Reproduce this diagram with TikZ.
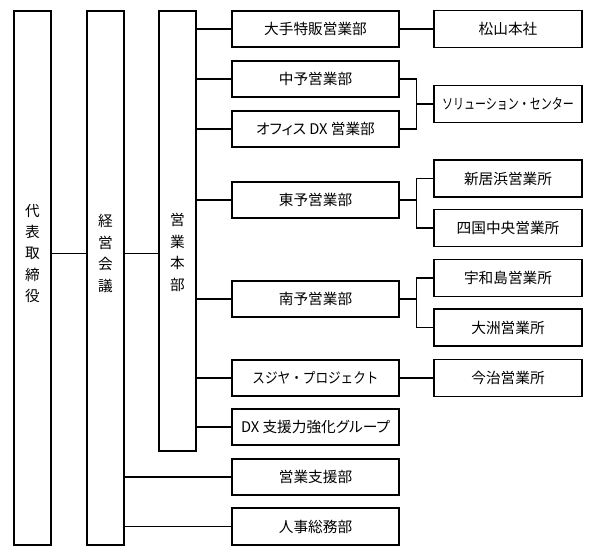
\documentclass[tikz,border=0pt]{standalone}
\usepackage{fontspec}
\setmainfont{Noto Sans CJK JP}[RawFeature={+palt}]
\newfontfamily\narrowjp{Noto Sans CJK JP}[FakeStretch=0.75]
\newfontfamily\semijp{Noto Sans CJK JP}[FakeStretch=0.86]
\usetikzlibrary{calc}
\begin{document}
\begin{tikzpicture}[x=0.75pt,y=-0.75pt,
  box/.style={draw, line width=1.2pt, inner sep=0pt, outer sep=0pt, font=\fontsize{11}{13}\selectfont},
  midbox/.style={box, minimum width=125.25pt, minimum height=27.4pt},
  rbox/.style={box, minimum width=111pt, minimum height=27.75pt},
  colbox/.style={box, minimum width=27.75pt},
  vtext/.style={align=center, inner sep=0pt, font=\fontsize{11}{16.1}\selectfont},
  link/.style={line width=1.1pt}]
\useasboundingbox (0,0) rectangle (596,553);
% columns
\node[colbox, minimum height=400.5pt] (c1) at (32.5,278) {};
\node[colbox, minimum height=400.5pt] (c2) at (105.5,278) {};
\node[colbox, minimum height=330pt] (c3) at (177.5,231) {};
\node[vtext] (t1) at (32.5,253.5) {代\\表\\取\\締\\役};
\node[vtext] (t2) at (105.5,253.5) {経\\営\\会\\議};
\node[vtext] (t3) at (177.5,252.5) {営\\業\\本\\部};
% middle boxes
\node[midbox] (m1) at (315.5,29) {大手特販営業部};
\node[midbox] (m2) at (315.5,79) {中予営業部};
\node[midbox] (m3) at (315.5,129) {オフィス DX 営業部};
\node[midbox] (m4) at (315.5,200) {東予営業部};
\node[midbox] (m5) at (315.5,299) {南予営業部};
\node[midbox] (m6) at (315.5,378) {\semijp スジヤ・プロジェクト};
\node[midbox] (m7) at (315.5,427) {DX 支援力強化グループ};
\node[midbox] (m8) at (315.5,477) {営業支援部};
\node[midbox] (m9) at (315.5,526.5) {人事総務部};
% right boxes
\node[rbox] (r1) at (508,29) {松山本社};
\node[rbox] (r2) at (508,104) {\narrowjp ソリューション・センター};
\node[rbox] (r3) at (508,178.5) {新居浜営業所};
\node[rbox] (r4) at (508,228) {四国中央営業所};
\node[rbox] (r5) at (508,278) {宇和島営業所};
\node[rbox] (r6) at (508,327.5) {大洲営業所};
\node[rbox] (r7) at (508,378) {今治営業所};
% connectors
\draw[link] (c1.east |- t1) -- (c2.west |- t1);
\draw[link] (c2.east |- t2) -- (c3.west |- t2);
\foreach \m in {m1,m2,m3,m4,m5,m6,m7}{\draw[link] (c3.east |- \m.west) -- (\m.west);}
\foreach \m in {m8,m9}{\draw[link] (c2.east |- \m.west) -- (\m.west);}
\draw[link] (m1.east) -- (r1.west);
\draw[link] (m6.east) -- (r7.west);
\coordinate (j1) at (416.5,104);
\coordinate (j2) at (416.5,200);
\coordinate (j3) at (416.5,299);
\draw[link] (m2.east) -| (j1) |- (m3.east);
\draw[link] (j1) -- (r2.west);
\draw[link] (r3.west) -| (j2) |- (r4.west);
\draw[link] (m4.east) -- (j2);
\draw[link] (r5.west) -| (j3) |- (r6.west);
\draw[link] (m5.east) -- (j3);
\end{tikzpicture}
\end{document}
